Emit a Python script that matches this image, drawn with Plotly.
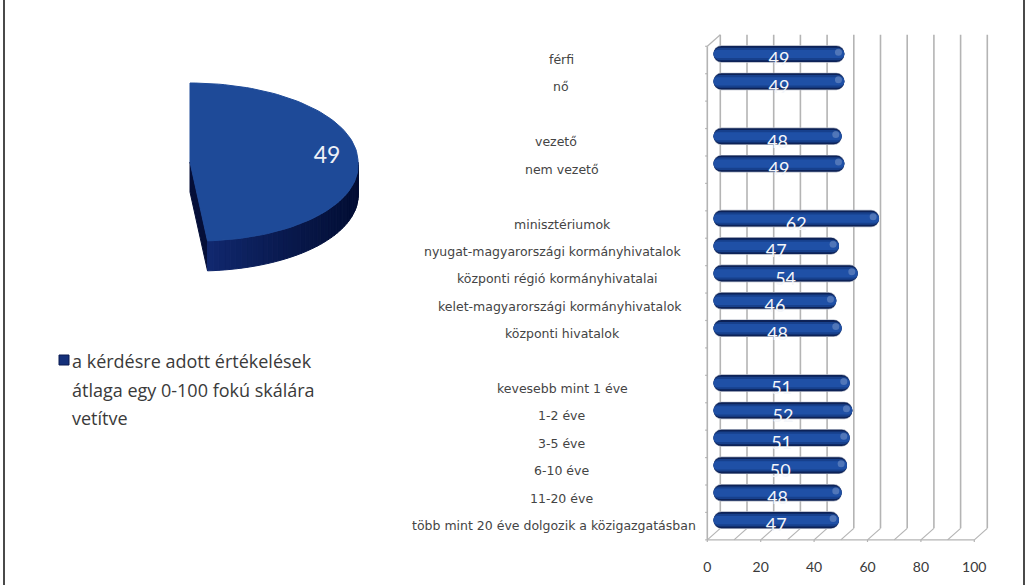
import math
import plotly.graph_objects as go

# ---- data ----
CATEGORIES = ["férfi", "nő", "", "vezető", "nem vezető", "",
              "minisztériumok", "nyugat-magyarországi kormányhivatalok",
              "központi régió kormányhivatalai", "kelet-magyarországi kormányhivatalok",
              "központi hivatalok", "", "kevesebb mint 1 éve", "1-2 éve", "3-5 éve",
              "6-10 éve", "11-20 éve", "több mint 20 éve dolgozik a közigazgatásban"]
VALUES = [49, 49, None, 48, 49, None, 62, 47, 54, 46, 48, None, 51, 52, 51, 50, 48, 47]
AXIS_TICKS = [0, 20, 40, 60, 80, 100]
GRID_TICKS = [0, 10, 20, 30, 40, 50, 60, 70, 80, 90, 100]
PIE_VALUE = 49
PIE_TOTAL = 100
LEGEND_LINES = ["a kérdésre adott értékelések", "átlaga egy 0-100 fokú skálára", "vetítve"]

# ---- layout geometry (page pixels) ----
W, H = 1027, 585
LABEL_CENTRE_PX = [561, 561, 0, 556, 562, 0, 562, 552, 557, 560, 562, 0, 562, 561, 561, 561, 561, 554]
X0_PX, UNIT_PX = 713.5, 2.67          # value 0 and px per unit in the bar plane
ROW0_PX, ROW_PX = 54.0, 27.42         # centre of first row, row pitch
DX_BACK, DY_BACK = 6.8, -5.5          # 3-D wall offset
DX_FRONT, DY_FRONT = -6.2, 6.0        # 3-D front offset
PX_L, PX_R, PX_T, PX_B = 640.0, 1010.0, 20.0, 542.0

xrange_ = [(PX_L - X0_PX) / UNIT_PX, (PX_R - X0_PX) / UNIT_PX]
yrange_ = [(PX_B - ROW0_PX) / ROW_PX, (PX_T - ROW0_PX) / ROW_PX]
n = len(CATEGORIES)
rows = list(range(n))
top_row, bot_row = -0.5, n - 0.5
bdx, bdy = DX_BACK / UNIT_PX, DY_BACK / ROW_PX
fdx, fdy = DX_FRONT / UNIT_PX, DY_FRONT / ROW_PX

fig = go.Figure()

# bars: layered to imitate glossy cylinders; an explicit base rounds both ends
LAYERS = [(0.64, "#aeb4c2", 9), (0.59, "#0d2257", 8), (0.46, "#17408c", 6), (0.30, "#1f50a6", 4)]
for width, colour, radius in LAYERS:
    fig.add_trace(go.Bar(y=rows, x=VALUES, base=0, orientation="h", width=width,
                         marker=dict(color=colour, line_width=0, cornerradius=radius),
                         showlegend=False, hoverinfo="skip"))
# highlight at the bar end
fig.add_trace(go.Scatter(x=[None if v is None else v - 2.2 for v in VALUES], y=[r - 0.06 for r in rows],
                         mode="markers", marker=dict(size=7, color="rgba(120,150,200,0.55)"),
                         showlegend=False, hoverinfo="skip"))
# value labels (white, spilling off the bar on to the white page)
fig.add_trace(go.Scatter(x=[None if v is None else v / 2 for v in VALUES], y=[r + 0.25 for r in rows],
                         mode="text", text=[None if v is None else str(v) for v in VALUES],
                         textposition="middle center",
                         textfont=dict(family="Lato", size=18, color="#f4f6fa"),
                         showlegend=False, hoverinfo="skip"))

# walls, floor and grid
GRID = "#b4b4b4"
shapes = []
def seg(x0, y0, x1, y1, color=GRID, width=1.2):
    shapes.append(dict(type="line", xref="x", yref="y", x0=x0, y0=y0, x1=x1, y1=y1,
                       line=dict(color=color, width=width), layer="below"))
for g in GRID_TICKS:
    seg(g + bdx, top_row + bdy, g + bdx, bot_row + bdy, width=1.6)
    seg(g + bdx, bot_row + bdy, g + fdx, bot_row + fdy)
seg(fdx, bot_row + fdy, 100 + fdx, bot_row + fdy)
seg(fdx, top_row + fdy, fdx, bot_row + fdy, width=1.6)
seg(fdx, top_row + fdy, bdx, top_row + bdy)
for r in range(n + 1):
    seg(fdx - 0.8, r - 0.5 + fdy, fdx, r - 0.5 + fdy)
for g in AXIS_TICKS:
    seg(g + fdx, bot_row + fdy, g + fdx, bot_row + fdy + 0.1)

annotations = []
# category labels
for r, c, cx in zip(rows, CATEGORIES, LABEL_CENTRE_PX):
    if c:
        annotations.append(dict(x=cx / W, xref="paper", y=r + 0.2, yref="y", text=c, showarrow=False,
                                xanchor="center", yanchor="middle",
                                font=dict(family="DejaVu Sans", size=12.5, color="#444444")))

# ---- pie drawn from the value on its own axes ----
PIE_CX, PIE_CY, PIE_A, PIE_B, PIE_D, PIE_LEAN = 190.0, 162.0, 168.0, 79.0, 30.0, 7.0
sweep = 2 * math.pi * PIE_VALUE / PIE_TOTAL
def pt(t, dz=0.0):
    y = PIE_B * math.cos(t)
    x = PIE_A * math.sin(t) + PIE_LEAN * max(0.0, -math.cos(t))
    return (x, y - dz)
steps = 90
ang = [sweep * i / steps for i in range(steps + 1)]
# cut face
a_end = pt(sweep)
a_end_b = pt(sweep, PIE_D)
fig.add_trace(go.Scatter(x=[0, a_end[0], a_end_b[0], 0, 0], y=[0, a_end[1], a_end_b[1], -PIE_D, 0],
                         mode="lines", fill="toself", fillcolor="#050f38", line=dict(color="#050f38", width=1),
                         xaxis="x2", yaxis="y2", showlegend=False, hoverinfo="skip"))
# rim, split in strips so that it shades from dark to lighter
vis = [t for t in ang if t >= math.pi / 2 - 0.02]
for i in range(len(vis) - 1):
    p0, p1, q1, q0 = pt(vis[i]), pt(vis[i + 1]), pt(vis[i + 1], PIE_D), pt(vis[i], PIE_D)
    f = i / (len(vis) - 2)
    col = "rgb(%d,%d,%d)" % (3 + 14 * f ** 2, 14 + 26 * f ** 2, 52 + 58 * f ** 2)
    fig.add_trace(go.Scatter(x=[p0[0], p1[0], q1[0], q0[0], p0[0]], y=[p0[1], p1[1], q1[1], q0[1], p0[1]],
                             mode="lines", fill="toself", fillcolor=col, line=dict(color=col, width=1),
                             xaxis="x2", yaxis="y2", showlegend=False, hoverinfo="skip"))
# top face
tops = [pt(t) for t in ang]
fig.add_trace(go.Scatter(x=[0] + [p[0] for p in tops] + [0], y=[0] + [p[1] for p in tops] + [0],
                         mode="lines", fill="toself", fillcolor="#1e4a98", line=dict(color="#1e4a98", width=1),
                         xaxis="x2", yaxis="y2", showlegend=False, hoverinfo="skip"))
# pie label
fig.add_trace(go.Scatter(x=[137], y=[5], mode="text", text=[str(PIE_VALUE)], textposition="middle center",
                         textfont=dict(family="Lato", size=23, color="#eef1f7"),
                         xaxis="x2", yaxis="y2", showlegend=False, hoverinfo="skip"))
# legend swatch
fig.add_trace(go.Scatter(x=[64 - PIE_CX], y=[PIE_CY - 360], mode="markers",
                         marker=dict(symbol="square", size=10, color="#14307a", line=dict(color="#0a1a50", width=1)),
                         xaxis="x2", yaxis="y2", showlegend=False, hoverinfo="skip"))
for line, ypx in zip(LEGEND_LINES, [361, 390, 418]):
    annotations.append(dict(x=70 / W, xref="paper", y=1 - ypx / H, yref="paper", text=line, showarrow=False,
                            xanchor="left", yanchor="middle",
                            font=dict(family="Open Sans", size=18, color="#3a3a3a")))

# page border (left and right rules)
for xp in (4 / W, 1024 / W):
    shapes.append(dict(type="line", xref="paper", yref="paper", x0=xp, x1=xp, y0=0, y1=1,
                       line=dict(color="#4a4a4a", width=2)))

fig.update_layout(
    width=W, height=H, autosize=False, margin=dict(l=0, r=0, t=0, b=0),
    paper_bgcolor="white", plot_bgcolor="rgba(0,0,0,0)", barmode="overlay",
    showlegend=False, shapes=shapes, annotations=annotations,
    xaxis=dict(domain=[PX_L / W, PX_R / W], range=xrange_, showgrid=False, zeroline=False, showline=False,
               tickmode="array", tickvals=[t + fdx for t in AXIS_TICKS], ticktext=[str(t) for t in AXIS_TICKS],
               ticks="outside", ticklen=12, tickcolor="rgba(0,0,0,0)",
               tickfont=dict(family="Lato", size=14, color="#3a3a3a")),
    yaxis=dict(domain=[1 - PX_B / H, 1 - PX_T / H], range=yrange_, showgrid=False, zeroline=False,
               showline=False, showticklabels=False, ticks=""),
    xaxis2=dict(domain=[0, 380 / W], range=[-PIE_CX, 380 - PIE_CX], anchor="y2", visible=False),
    yaxis2=dict(domain=[1 - 400 / H, 1], range=[PIE_CY - 400, PIE_CY], anchor="x2", visible=False),
)
fig.write_html("out.html", config={"displayModeBar": False},
               post_script="document.body.style.margin='0';")
